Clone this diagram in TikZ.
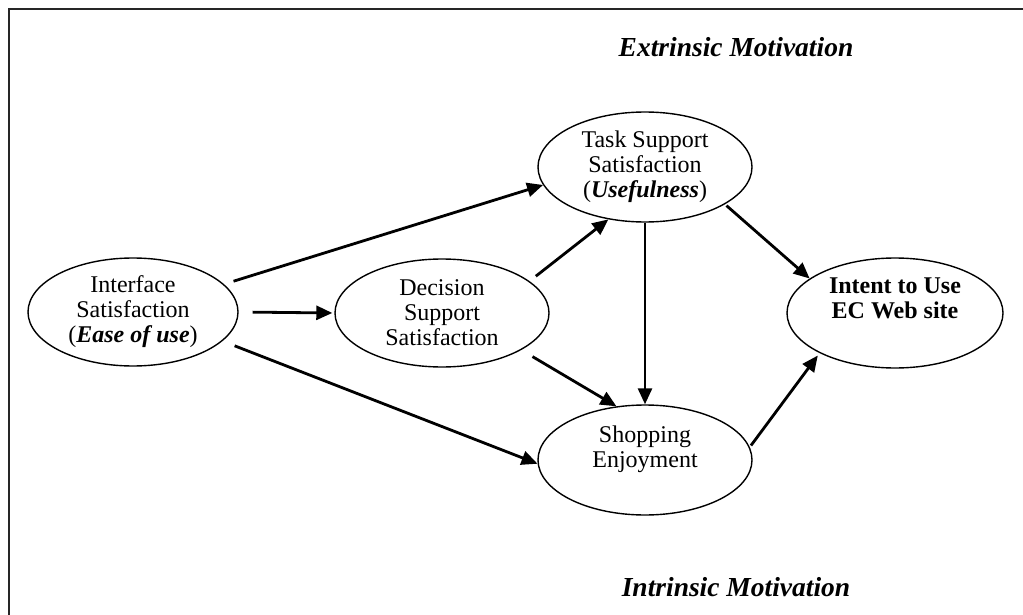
\documentclass[tikz,border=0pt]{standalone}
\usepackage{fontspec}
\setmainfont{Liberation Serif}
\usetikzlibrary{shapes.geometric,arrows.meta}
\begin{document}
\begin{tikzpicture}[x=1pt,y=-1pt,
  bodytext/.style={font=\fontsize{24}{25}\selectfont},
  construct/.style={ellipse,draw,line width=1.4pt,inner sep=0pt,align=center,bodytext},
  link/.style={line width=2.8pt,-{Triangle[length=16pt,width=14pt]}},
  heading/.style={font=\fontsize{27.5}{30}\selectfont\bfseries\itshape}]
  \useasboundingbox (0,0) rectangle (1023,615);
  % frame (top and left edges)
  \draw[line width=2pt,black!85] (1023,9.5) -- (8.5,9.5) -- (8.5,615);

  \node[heading] (ext) at (736,47) {Extrinsic Motivation};
  \node[heading] (int) at (736,587) {Intrinsic Motivation};

  \node[construct,minimum width=210pt,minimum height=108pt] (ie) at (133,312)
    {Interface\\Satisfaction\\(\textbf{\textit{Ease of use}})};
  \node[construct,minimum width=214pt,minimum height=108pt] (ds) at (442,313)
    {Decision\\Support\\Satisfaction};
  \node[construct,minimum width=214pt,minimum height=110pt] (ts) at (645,167)
    {Task Support\\Satisfaction\\(\textbf{\textit{Usefulness}})};
  \node[construct,minimum width=214pt,minimum height=110pt,
    label={[align=center,bodytext,yshift=11pt]center:Shopping\\Enjoyment}]
    (se) at (645,460) {};
  \node[construct,minimum width=216pt,minimum height=110pt,
    label={[align=center,font={\fontsize{24}{25}\selectfont\bfseries},yshift=15pt]center:Intent to Use\\EC Web site}]
    (it) at (895,313) {};

  \draw[link,shorten <=10pt] (ie.17.6) -- (ts.190);
  \draw[link,shorten <=14pt,shorten >=2pt] (ie.east) -- (ds.west);
  \draw[link,shorten <=13pt] (ie.-18) -- (se.182);
  \draw[link,shorten <=8pt] (ds.20.6) -- (ts.235);
  \draw[link,shorten <=13pt] (ds.-25) -- (se.118);
  \draw[link] (ts.south) -- (se.north);
  \draw[link,shorten <=2pt] (ts.-25.7) -- (it.158);
  \draw[link,shorten <=2pt,shorten >=3pt] (se.7) -- (it.208);
\end{tikzpicture}
\end{document}
